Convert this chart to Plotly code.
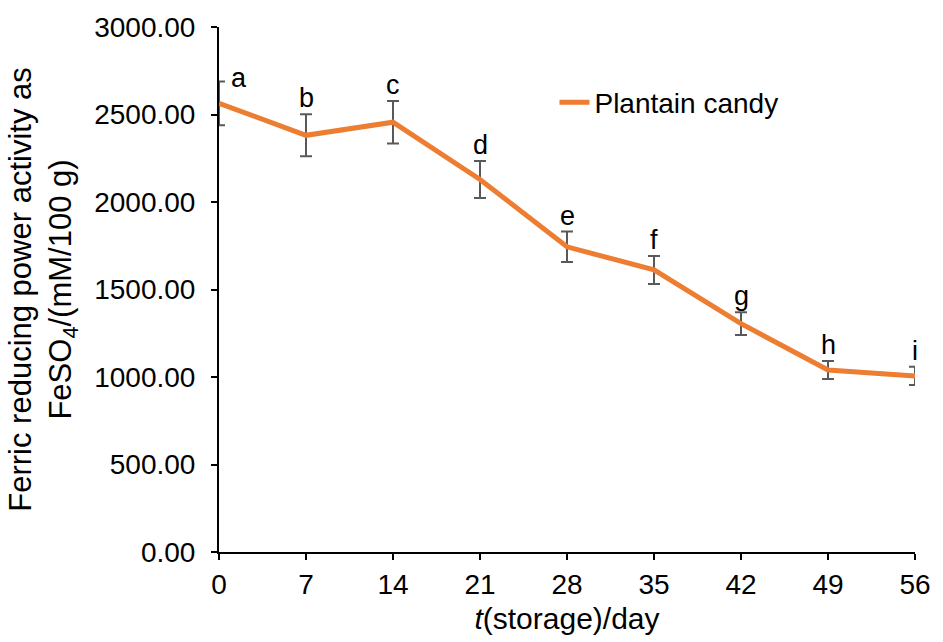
import plotly.graph_objects as go

# Storage time (days) and ferric reducing power (mM FeSO4 / 100 g)
days = [0, 7, 14, 21, 28, 35, 42, 49, 56]
frap = [2564, 2381, 2456, 2129, 1744, 1612, 1305, 1040, 1006]
frap_sd = [125, 120, 121, 106, 87, 80, 65, 52, 52]
letters = ["a", "b", "c", "d", "e", "f", "g", "h", "i"]

series_name = "Plantain candy"
y_ticks = [0, 500, 1000, 1500, 2000, 2500, 3000]

FONT = "Liberation Sans, Arial, sans-serif"
ORANGE = "#ED7D31"

fig = go.Figure()
fig.add_trace(go.Scatter(
    x=days, y=frap, mode="lines", name=series_name,
    line=dict(color=ORANGE, width=5),
    error_y=dict(type="data", array=frap_sd, visible=True,
                 color="#595959", thickness=2, width=6),
))

# significance letters above each error bar
for i, (d, v, sd, lab) in enumerate(zip(days, frap, frap_sd, letters)):
    fig.add_annotation(
        x=d, y=v + sd, text=lab, showarrow=False,
        xanchor="center", yanchor="bottom",
        xshift=20 if i == 0 else 0, yshift=-14 if i == 0 else -1,
        font=dict(family=FONT, size=27, color="black"),
    )

fig.update_layout(
    width=943, height=642,
    margin=dict(l=219, r=19, t=25, b=89),
    paper_bgcolor="white", plot_bgcolor="white",
    font=dict(family=FONT, size=25, color="black"),
    showlegend=True,
    legend=dict(x=0.482, y=0.856, xanchor="left", yanchor="middle",
                bgcolor="rgba(0,0,0,0)", font=dict(family=FONT, size=28)),
    xaxis=dict(
        range=[0, 56], tickvals=days, ticktext=[str(d) for d in days],
        tickfont=dict(family=FONT, size=28),
        showline=True, linecolor="black", linewidth=2,
        ticks="outside", ticklen=6, tickwidth=2, tickcolor="black",
        showgrid=False, zeroline=False,
        title=dict(text="<i>t</i>(storage)/day", standoff=9),
    ),
    yaxis=dict(
        range=[0, 3000], tickvals=y_ticks,
        tickformat=".2f", tickfont=dict(family=FONT, size=28),
        ticklabelstandoff=10,
        showline=True, linecolor="black", linewidth=2,
        ticks="outside", ticklen=6, tickwidth=2, tickcolor="black",
        showgrid=False, zeroline=False,
        title=dict(text="Ferric reducing power activity as<br>FeSO<sub>4</sub>/(mM/100 g)",
                   standoff=13, font=dict(size=31)),
    ),
)

fig.write_html("out.html")
